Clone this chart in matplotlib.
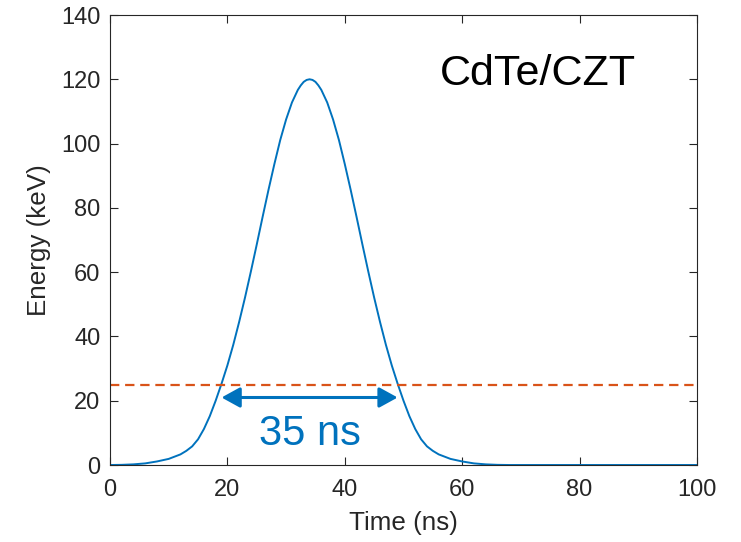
import matplotlib
matplotlib.use('Agg')
import matplotlib.pyplot as plt

plt.rcParams['font.family'] = ['Liberation Sans', 'DejaVu Sans']

# pulse (ns, keV)
time_ns = [0, 2, 4, 6, 8, 10, 12, 13, 14, 15, 16, 17, 18, 19, 20, 21, 22, 23,
           24, 25, 26, 27, 28, 29, 30, 31, 32, 32.5, 33, 33.5, 34, 34.5, 35,
           35.5, 36, 37, 38, 39, 40, 41, 42, 43, 44, 45, 46, 47, 48, 49, 50,
           51, 52, 53, 54, 55, 56, 58, 60, 62, 64, 66, 68, 80, 100]
energy_kev = [0, 0.05, 0.2, 0.5, 1.1, 1.9, 3.3, 4.4, 5.8, 8.0, 11.2, 15.2,
              20.0, 25.3, 31.0, 37.4, 44.5, 52.1, 60.2, 68.6, 77.2, 85.6, 93.6,
              101.1, 107.5, 112.8, 116.7, 118.1, 119.2, 119.8, 120.0, 119.8,
              119.2, 118.1, 116.7, 112.8, 107.5, 101.1, 93.6, 85.6, 77.2, 68.6,
              60.2, 52.1, 44.5, 37.4, 31.0, 25.3, 20.0, 15.2, 11.2, 8.0, 5.8,
              4.4, 3.3, 1.9, 1.1, 0.5, 0.2, 0.05, 0, 0, 0]

threshold = 25
width_start, width_end = 19, 49
arrow_level = 21
width_label = '35 ns'
material = 'CdTe/CZT'

blue = '#0072BD'
orange = '#D95319'
dark = '#262626'

fig = plt.figure(figsize=(7.41, 5.42), dpi=100)
ax = fig.add_axes([110 / 741, 77 / 542, 587 / 741, 450 / 542])

ax.plot(time_ns, energy_kev, color=blue, lw=1.4)
ax.axhline(threshold, color=orange, lw=1.6, ls=(0, (4.2, 2.6)))

ax.annotate('', xy=(width_end, arrow_level), xytext=(width_start, arrow_level),
            arrowprops=dict(arrowstyle='<|-|>,head_length=0.4,head_width=0.22',
                            color=blue, lw=2.2, mutation_scale=28,
                            shrinkA=0, shrinkB=0))
ax.text(34, 6.2, width_label, color=blue, fontsize=30, ha='center', va='baseline')
ax.text(72.9, 118.2, material, color='black', fontsize=31, ha='center', va='baseline')

ax.set_xlim(0, 100)
ax.set_ylim(0, 140)
ax.set_xticks(range(0, 101, 20))
ax.set_yticks(range(0, 141, 20))
ax.tick_params(direction='in', length=6, width=0.8, colors=dark, labelsize=17,
               top=True, right=True)
ax.tick_params(axis='x', pad=10)
ax.tick_params(axis='y', pad=7)
for s in ax.spines.values():
    s.set_color(dark)
    s.set_linewidth(0.8)

ax.set_xlabel('Time (ns)', fontsize=18.7, color=dark, labelpad=7)
ax.set_ylabel('Energy (keV)', fontsize=18.7, color=dark, labelpad=7)

fig.savefig('out.png', dpi=100)
